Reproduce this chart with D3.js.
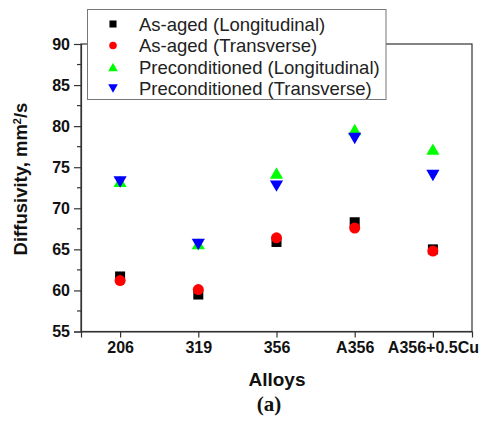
<!DOCTYPE html>
<html><head><meta charset="utf-8">
<script src="https://cdn.jsdelivr.net/npm/d3@7"></script>
<style>body{margin:0;background:#fff}</style>
</head><body>
<svg id="c" width="484" height="421"></svg>
<script>
const categories = ["206","319","356","A356","A356+0.5Cu"];
const asAgedLong = [61.7, 59.5, 65.9, 68.3, 65.0];
const asAgedTrans = [61.2, 60.1, 66.4, 67.6, 64.8];
const precondLong = [73.3, 65.7, 74.3, 79.6, 77.2];
const precondTrans = [73.2, 65.6, 72.7, 78.5, 74.0];
const yTicks = [55, 60, 65, 70, 75, 80, 85, 90];
const seriesNames = ["As-aged (Longitudinal)","As-aged (Transverse)","Preconditioned (Longitudinal)","Preconditioned (Transverse)"];

// triangle centred on its bounding box (as in Origin)
const triUp = { draw(ctx, size) {
  const s = Math.sqrt(size * 4 / Math.sqrt(3)), h = s * Math.sqrt(3) / 2;
  ctx.moveTo(0, -h/2); ctx.lineTo(s/2, h/2); ctx.lineTo(-s/2, h/2); ctx.closePath();
}};
const triDown = { draw(ctx, size) {
  const s = Math.sqrt(size * 4 / Math.sqrt(3)), h = s * Math.sqrt(3) / 2;
  ctx.moveTo(0, h/2); ctx.lineTo(s/2, -h/2); ctx.lineTo(-s/2, -h/2); ctx.closePath();
}};

const series = [
  {name: seriesNames[0], values: asAgedLong, color: "#000000", sym: d3.symbolSquare, size: 100, lsize: 50},
  {name: seriesNames[1], values: asAgedTrans, color: "#ff0000", sym: d3.symbolCircle, size: 95, lsize: 45},
  {name: seriesNames[2], values: precondLong, color: "#00ff00", sym: triUp, size: 75, lsize: 40},
  {name: seriesNames[3], values: precondTrans, color: "#0000ff", sym: triDown, size: 75, lsize: 40}
];

const svg = d3.select("#c");
const L = 81, R = 472, T = 44, B = 331.5;
const x = d3.scaleLinear().domain([-0.5, 4.5]).range([L, R]);
const y = d3.scaleLinear().domain([55, 90]).range([B, T]);
const axisColor = "#333";
const font = "Arial, 'Liberation Sans', sans-serif";

// frame
svg.append("rect").attr("x", L).attr("y", T).attr("width", R-L).attr("height", B-T)
  .attr("fill","none").attr("stroke", axisColor).attr("stroke-width", 1.2);

// y axis
const yAxis = d3.axisLeft(y).tickValues(yTicks).tickSize(7).tickPadding(4);
const gy = svg.append("g").attr("transform", `translate(${L},0)`).call(yAxis);
gy.select(".domain").attr("stroke", axisColor).attr("stroke-width", 1.2);
gy.selectAll(".tick line").attr("stroke", axisColor).attr("stroke-width", 1.2);
gy.selectAll(".tick text").attr("font-family", font).attr("font-weight","bold").attr("font-size", 16).attr("fill","#111");
const minor = d3.range(57.5, 90, 5);
svg.append("g").selectAll("line").data(minor).join("line")
  .attr("x1", L-4).attr("x2", L).attr("y1", d=>y(d)).attr("y2", d=>y(d))
  .attr("stroke", axisColor).attr("stroke-width", 1.2);

// x axis
const xAxis = d3.axisBottom(x).tickValues(d3.range(categories.length)).tickFormat(i=>categories[i]).tickSize(6).tickPadding(4);
const gx = svg.append("g").attr("transform", `translate(0,${B})`).call(xAxis);
gx.select(".domain").attr("stroke", axisColor).attr("stroke-width", 1.2);
gx.selectAll(".tick line").attr("stroke", axisColor).attr("stroke-width", 1.2);
gx.selectAll(".tick text").attr("font-family", font).attr("font-weight","bold").attr("font-size", 16).attr("fill","#111");

// points
series.forEach(s => {
  svg.append("g").selectAll("path").data(s.values).join("path")
    .attr("d", d3.symbol().type(s.sym).size(s.size))
    .attr("transform", (d,i) => `translate(${x(i)},${y(d)})`)
    .attr("fill", s.color);
});

// legend
const lg = svg.append("g");
lg.append("rect").attr("x", 87.5).attr("y", 9.5).attr("width", 298.5).attr("height", 90)
  .attr("fill","#fff").attr("stroke","#777").attr("stroke-width",1);
series.forEach((s, i) => {
  const yy = 24 + i*21.5;
  lg.append("path").attr("d", d3.symbol().type(s.sym).size(s.lsize)())
    .attr("transform", `translate(113,${yy})`)
    .attr("fill", s.color);
  lg.append("text").attr("x", 139).attr("y", yy).attr("dy","0.36em")
    .attr("font-family", font).attr("font-size", 18.5).attr("fill","#222").text(s.name);
});

// axis titles
svg.append("text").attr("transform", `translate(27,179) rotate(-90)`)
  .attr("text-anchor","middle").attr("font-family", font).attr("font-weight","bold").attr("font-size", 18.5).attr("fill","#111")
  .html('Diffusivity, mm<tspan baseline-shift="super" font-size="11">2</tspan>/s');
svg.append("text").attr("x", 277).attr("y", 386).attr("text-anchor","middle")
  .attr("font-family", font).attr("font-weight","bold").attr("font-size", 19).attr("fill","#111").text("Alloys");
svg.append("text").attr("x", 269).attr("y", 411).attr("text-anchor","middle")
  .attr("font-family", "'Liberation Serif', 'Times New Roman', serif").attr("font-weight","bold").attr("font-size", 21).attr("fill","#111").text("(a)");
</script>
</body></html>
